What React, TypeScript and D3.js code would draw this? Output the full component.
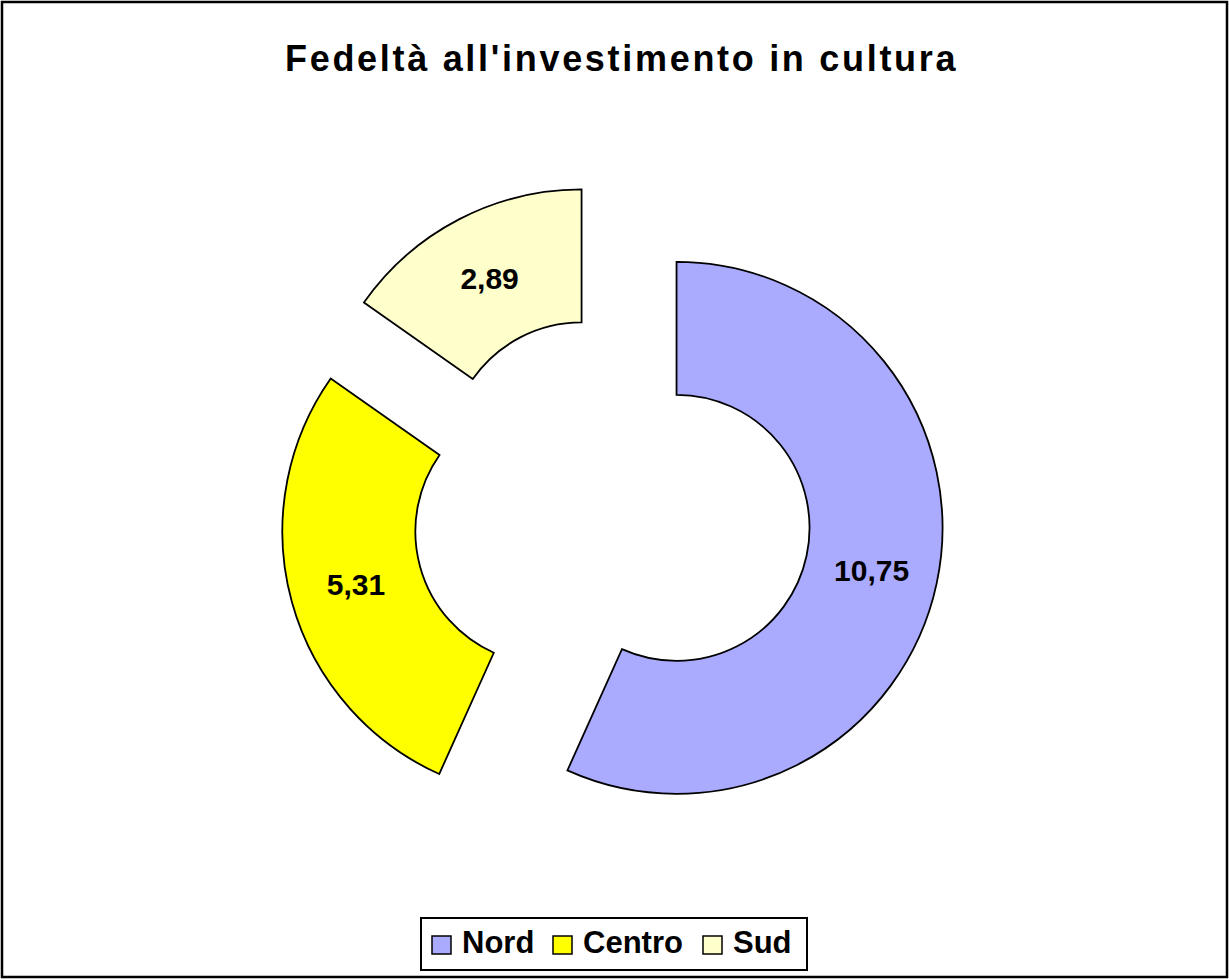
import React from "react";
import { arc, pie, PieArcDatum } from "d3";

const categories = ["Nord", "Centro", "Sud"];
const values = [10.75, 5.31, 2.89];
const colors = ["#AAAAFF", "#FFFF00", "#FFFFCC"];
const title = "Fedeltà all'investimento in cultura";

const width = 1229;
const height = 979;
const cx = 612;
const cy = 514;
const outerR = 266;
const innerR = 133;
const explode = 66;

type Slice = { name: string; value: number; color: string };

const data: Slice[] = categories.map((c, i) => ({ name: c, value: values[i], color: colors[i] }));

const slicePie = pie<Slice>().value((d) => d.value).sort(null);
const sliceArc = arc<PieArcDatum<Slice>>().innerRadius(innerR).outerRadius(outerR);

const fmt = (v: number) => v.toFixed(2).replace(".", ",");

const font = "'Liberation Sans', Arial, sans-serif";

export default function App() {
  const arcs = slicePie(data);
  const legendX = 421;
  const legendW = 386;
  const itemX = [432, 553, 703];

  return (
    <svg
      width={width}
      height={height}
      viewBox={`0 0 ${width} ${height}`}
      style={{ position: "absolute", left: 0, top: 0, background: "#fff" }}
    >
      <rect x={2} y={2} width={width - 4} height={height - 4} fill="#fff" stroke="#000" strokeWidth={2.5} />
      <text x={285} y={71} fontFamily={font} fontWeight="bold" fontSize={36} letterSpacing={2.7}>
        {title}
      </text>
      <g transform={`translate(${cx},${cy})`}>
        {arcs.map((d) => {
          const mid = (d.startAngle + d.endAngle) / 2;
          const dx = Math.sin(mid) * explode;
          const dy = -Math.cos(mid) * explode;
          const [lx, ly] = sliceArc.centroid(d);
          return (
            <g key={d.data.name} transform={`translate(${dx},${dy})`}>
              <path d={sliceArc(d) || ""} fill={d.data.color} stroke="#000" strokeWidth={1.8} />
              <text
                x={lx}
                y={ly + 11}
                textAnchor="middle"
                fontFamily={font}
                fontWeight="bold"
                fontSize={30}
              >
                {fmt(d.data.value)}
              </text>
            </g>
          );
        })}
      </g>
      <g>
        <rect x={legendX} y={918} width={legendW} height={52} fill="#fff" stroke="#000" strokeWidth={2} />
        {data.map((d, i) => (
          <g key={d.name} transform={`translate(${itemX[i]},0)`}>
            <rect x={0} y={936} width={19} height={18} fill={d.color} stroke="#000" strokeWidth={1.5} />
            <text x={30} y={953} fontFamily={font} fontWeight="bold" fontSize={31}>
              {d.name}
            </text>
          </g>
        ))}
      </g>
    </svg>
  );
}
